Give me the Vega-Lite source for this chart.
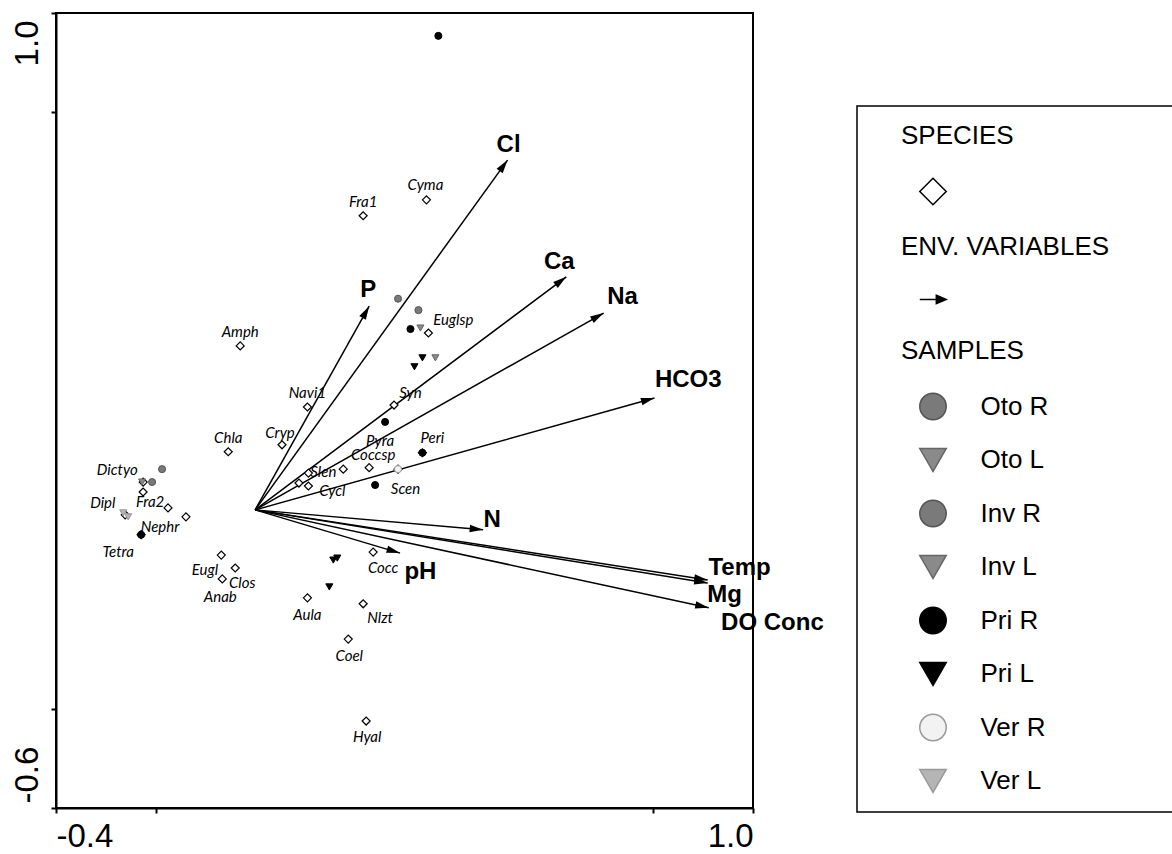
{
  "$schema": "https://vega.github.io/schema/vega-lite/v6.json",
  "width": 697,
  "height": 795,
  "autosize": "none",
  "padding": {"left": 56, "top": 13, "right": 419, "bottom": 46},
  "background": "white",
  "config": {
    "view": {"stroke": "black", "strokeWidth": 2},
    "legend": {"strokeWidth": 1.5},
    "axis": {
      "grid": false,
      "domainColor": "black",
      "domainWidth": 2,
      "tickColor": "black",
      "tickWidth": 2,
      "tickSize": 5,
      "labelFont": "Liberation Sans",
      "labelFontSize": 33,
      "labelColor": "black"
    }
  },
  "datasets": {
    "env": [
      {"name": "Cl", "x": 0.507, "y": 0.704, "lx": 0.509, "ly": 0.734},
      {"name": "Ca", "x": 0.625, "y": 0.469, "lx": 0.611, "ly": 0.499},
      {"name": "Na", "x": 0.700, "y": 0.396, "lx": 0.738, "ly": 0.429},
      {"name": "HCO3", "x": 0.802, "y": 0.225, "lx": 0.870, "ly": 0.262},
      {"name": "P", "x": 0.229, "y": 0.410, "lx": 0.227, "ly": 0.443},
      {"name": "N", "x": 0.458, "y": -0.040, "lx": 0.476, "ly": -0.020},
      {"name": "pH", "x": 0.291, "y": -0.087, "lx": 0.332, "ly": -0.125},
      {"name": "Temp", "x": 0.909, "y": -0.141, "lx": 0.973, "ly": -0.117},
      {"name": "Mg", "x": 0.909, "y": -0.147, "lx": 0.943, "ly": -0.171},
      {"name": "DO Conc", "x": 0.911, "y": -0.197, "lx": 1.039, "ly": -0.227}
    ],
    "species": [
      {"name": "Fra1", "x": 0.217, "y": 0.592, "lx": 0.217, "ly": 0.620, "group": "Species"},
      {"name": "Cyma", "x": 0.344, "y": 0.624, "lx": 0.342, "ly": 0.654, "group": "Species"},
      {"name": "Amph", "x": -0.030, "y": 0.330, "lx": -0.030, "ly": 0.358, "group": "Species"},
      {"name": "Euglsp", "x": 0.348, "y": 0.356, "lx": 0.398, "ly": 0.382, "group": "Species"},
      {"name": "Navi1", "x": 0.105, "y": 0.207, "lx": 0.105, "ly": 0.235, "group": "Species"},
      {"name": "Syn", "x": 0.279, "y": 0.211, "lx": 0.312, "ly": 0.235, "group": "Species"},
      {"name": "Cryp", "x": 0.054, "y": 0.131, "lx": 0.050, "ly": 0.155, "group": "Species"},
      {"name": "Chla", "x": -0.054, "y": 0.117, "lx": -0.054, "ly": 0.145, "group": "Species"},
      {"name": "Pyra", "x": 0.177, "y": 0.082, "lx": 0.251, "ly": 0.139, "group": "Species"},
      {"name": "Coccsp", "x": 0.229, "y": 0.085, "lx": 0.237, "ly": 0.111, "group": "Species"},
      {"name": "Slen", "x": 0.107, "y": 0.074, "lx": 0.137, "ly": 0.076, "group": "Species"},
      {"name": "Cycl", "x": 0.107, "y": 0.048, "lx": 0.155, "ly": 0.038, "group": "Species"},
      {"name": "", "x": 0.088, "y": 0.054, "lx": 0.088, "ly": 0.054, "group": "Species"},
      {"name": "Peri", "x": 0.336, "y": 0.115, "lx": 0.356, "ly": 0.145, "group": "Species"},
      {"name": "Scen", "x": 0.287, "y": 0.082, "lx": 0.302, "ly": 0.042, "group": "Species"},
      {"name": "Dictyo", "x": -0.225, "y": 0.056, "lx": -0.277, "ly": 0.080, "group": "Species"},
      {"name": "Fra2", "x": -0.225, "y": 0.036, "lx": -0.211, "ly": 0.016, "group": "Species"},
      {"name": "Dipl", "x": -0.261, "y": -0.010, "lx": -0.306, "ly": 0.014, "group": "Species"},
      {"name": "Nephr", "x": -0.139, "y": -0.014, "lx": -0.191, "ly": -0.034, "group": "Species"},
      {"name": "", "x": -0.175, "y": 0.004, "lx": -0.175, "ly": 0.004, "group": "Species"},
      {"name": "Tetra", "x": -0.229, "y": -0.050, "lx": -0.275, "ly": -0.085, "group": "Species"},
      {"name": "Eugl", "x": -0.068, "y": -0.091, "lx": -0.101, "ly": -0.121, "group": "Species"},
      {"name": "Clos", "x": -0.040, "y": -0.117, "lx": -0.026, "ly": -0.147, "group": "Species"},
      {"name": "Anab", "x": -0.066, "y": -0.139, "lx": -0.070, "ly": -0.175, "group": "Species"},
      {"name": "Aula", "x": 0.105, "y": -0.177, "lx": 0.105, "ly": -0.211, "group": "Species"},
      {"name": "Nlzt", "x": 0.217, "y": -0.189, "lx": 0.251, "ly": -0.217, "group": "Species"},
      {"name": "Coel", "x": 0.187, "y": -0.260, "lx": 0.189, "ly": -0.294, "group": "Species"},
      {"name": "Hyal", "x": 0.223, "y": -0.425, "lx": 0.225, "ly": -0.457, "group": "Species"},
      {"name": "Cocc", "x": 0.237, "y": -0.085, "lx": 0.257, "ly": -0.117, "group": "Species"}
    ],
    "samples": [
      {"x": 0.368, "y": 0.954, "group": "Pri R"},
      {"x": 0.287, "y": 0.425, "group": "Oto R"},
      {"x": 0.328, "y": 0.402, "group": "Inv R"},
      {"x": 0.312, "y": 0.364, "group": "Pri R"},
      {"x": 0.332, "y": 0.366, "group": "Oto L"},
      {"x": 0.336, "y": 0.306, "group": "Pri L"},
      {"x": 0.362, "y": 0.306, "group": "Inv L"},
      {"x": 0.320, "y": 0.288, "group": "Pri L"},
      {"x": 0.261, "y": 0.177, "group": "Pri R"},
      {"x": 0.336, "y": 0.115, "group": "Pri R"},
      {"x": 0.287, "y": 0.082, "group": "Ver R"},
      {"x": 0.241, "y": 0.050, "group": "Pri R"},
      {"x": -0.187, "y": 0.082, "group": "Oto R"},
      {"x": -0.207, "y": 0.056, "group": "Inv R"},
      {"x": -0.227, "y": 0.056, "group": "Oto L"},
      {"x": -0.265, "y": -0.006, "group": "Ver L"},
      {"x": -0.255, "y": -0.014, "group": "Ver L"},
      {"x": -0.229, "y": -0.050, "group": "Pri R"},
      {"x": 0.157, "y": -0.101, "group": "Pri L"},
      {"x": 0.165, "y": -0.097, "group": "Pri L"},
      {"x": 0.149, "y": -0.155, "group": "Pri L"}
    ]
  },
  "layer": [
    {
      "data": {"name": "env"},
      "mark": {"type": "rule", "color": "black", "strokeWidth": 1.5},
      "encoding": {
        "x": {
          "field": "x", "type": "quantitative",
          "scale": {"domain": [-0.4, 1.0], "nice": false, "zero": false},
          "axis": {"title": null, "values": [-0.4, -0.2, 0.8, 1.0], "labelFlush": true, "labelFlushOffset": 0, "labelPadding": 7, "labelBaseline": "top",
                   "labelExpr": "datum.value < -0.3 || datum.value > 0.9 ? (datum.value < 0 ? '-' : '') + format(abs(datum.value), '.1f') : ''"}
        },
        "y": {
          "field": "y", "type": "quantitative",
          "scale": {"domain": [-0.6, 1.0], "nice": false, "zero": false},
          "axis": {"title": null, "values": [-0.6, -0.4, 0.8, 1.0], "labelAngle": -90, "labelBaseline": "alphabetic", "labelPadding": 14,
                   "labelAlign": {"condition": {"test": "datum.value > 0", "value": "right"}, "value": "left"},
                   "labelOffset": {"condition": {"test": "datum.value > 0", "value": 7}, "value": -5},
                   "labelExpr": "datum.value < -0.5 || datum.value > 0.9 ? (datum.value < 0 ? '-' : '') + format(abs(datum.value), '.1f') : ''"}
        },
        "x2": {"datum": 0},
        "y2": {"datum": 0}
      }
    },
    {
      "data": {"name": "env"},
      "mark": {
        "type": "point",
        "filled": true,
        "color": "black",
        "opacity": 1,
        "size": 225,
        "shape": "M0,0L0.5,1.8L-0.5,1.8Z",
        "angle": {"expr": "atan2(datum.x, datum.y) * 180 / PI"}
      },
      "encoding": {
        "x": {"field": "x", "type": "quantitative",
              "axis": {"title": null, "values": [-0.4, -0.2, 0.8, 1.0], "labelFlush": true, "labelFlushOffset": 0, "labelPadding": 7, "labelBaseline": "top",
                       "labelExpr": "datum.value < -0.3 || datum.value > 0.9 ? (datum.value < 0 ? '-' : '') + format(abs(datum.value), '.1f') : ''"}},
        "y": {"field": "y", "type": "quantitative",
              "axis": {"title": null, "values": [-0.6, -0.4, 0.8, 1.0], "labelAngle": -90, "labelBaseline": "alphabetic", "labelPadding": 14,
                       "labelAlign": {"condition": {"test": "datum.value > 0", "value": "right"}, "value": "left"},
                       "labelOffset": {"condition": {"test": "datum.value > 0", "value": 7}, "value": -5},
                       "labelExpr": "datum.value < -0.5 || datum.value > 0.9 ? (datum.value < 0 ? '-' : '') + format(abs(datum.value), '.1f') : ''"}}
      }
    },
    {
      "data": {"name": "env"},
      "mark": {"type": "text", "font": "Liberation Sans", "fontWeight": "bold", "fontSize": 24, "color": "black", "align": "center", "baseline": "middle"},
      "encoding": {
        "x": {"field": "lx", "type": "quantitative",
              "axis": {"title": null, "values": [-0.4, -0.2, 0.8, 1.0], "labelFlush": true, "labelFlushOffset": 0, "labelPadding": 7, "labelBaseline": "top",
                       "labelExpr": "datum.value < -0.3 || datum.value > 0.9 ? (datum.value < 0 ? '-' : '') + format(abs(datum.value), '.1f') : ''"}},
        "y": {"field": "ly", "type": "quantitative",
              "axis": {"title": null, "values": [-0.6, -0.4, 0.8, 1.0], "labelAngle": -90, "labelBaseline": "alphabetic", "labelPadding": 14,
                       "labelAlign": {"condition": {"test": "datum.value > 0", "value": "right"}, "value": "left"},
                       "labelOffset": {"condition": {"test": "datum.value > 0", "value": 7}, "value": -5},
                       "labelExpr": "datum.value < -0.5 || datum.value > 0.9 ? (datum.value < 0 ? '-' : '') + format(abs(datum.value), '.1f') : ''"}},
        "text": {"field": "name"}
      }
    },
    {
      "data": {"name": "species"},
      "mark": {"type": "point", "filled": true, "opacity": 1, "size": 64, "strokeWidth": 1.2},
      "encoding": {
        "x": {"field": "x", "type": "quantitative",
              "axis": {"title": null, "values": [-0.4, -0.2, 0.8, 1.0], "labelFlush": true, "labelFlushOffset": 0, "labelPadding": 7, "labelBaseline": "top",
                       "labelExpr": "datum.value < -0.3 || datum.value > 0.9 ? (datum.value < 0 ? '-' : '') + format(abs(datum.value), '.1f') : ''"}},
        "y": {"field": "y", "type": "quantitative",
              "axis": {"title": null, "values": [-0.6, -0.4, 0.8, 1.0], "labelAngle": -90, "labelBaseline": "alphabetic", "labelPadding": 14,
                       "labelAlign": {"condition": {"test": "datum.value > 0", "value": "right"}, "value": "left"},
                       "labelOffset": {"condition": {"test": "datum.value > 0", "value": 7}, "value": -5},
                       "labelExpr": "datum.value < -0.5 || datum.value > 0.9 ? (datum.value < 0 ? '-' : '') + format(abs(datum.value), '.1f') : ''"}},
        "shape": {
          "field": "group", "type": "nominal",
          "scale": {
            "domain": ["SPECIES", "Species", "ENV. VARIABLES", "Env", "SAMPLES", "Oto R", "Oto L", "Inv R", "Inv L", "Pri R", "Pri L", "Ver R", "Ver L"],
            "range": ["circle", "diamond", "circle", "M-1,0L0.35,0M0.25,-0.32L1,0L0.25,0.32Z", "circle", "circle", "triangle-down", "circle", "triangle-down", "circle", "triangle-down", "circle", "triangle-down"]
          },
          "legend": {
            "title": null,
            "orient": "none",
            "legendX": 801,
            "legendY": 93,
            "direction": "vertical",
            "strokeColor": "black",
            "padding": 16,
            "symbolSize": 700,
            "symbolStrokeWidth": 1.5,
            "symbolOpacity": 1,
            "symbolOffset": 46,
            "labelOffset": -46,
            "rowPadding": 21.5,
            "labelFont": "Liberation Sans",
            "labelFontSize": 26,
            "labelColor": "black",
            "labelLimit": 500,
            "labelExpr": "datum.label == 'Species' || datum.label == 'Env' ? '' : datum.label == 'ENV. VARIABLES' ? datum.label + '\u00a0\u00a0\u00a0\u00a0\u00a0\u00a0\u00a0\u00a0\u00a0\u00a0\u200b' : datum.label == 'SPECIES' || datum.label == 'SAMPLES' ? datum.label : '\u200b\u00a0\u00a0\u00a0\u00a0\u00a0\u00a0\u00a0\u00a0\u00a0\u00a0\u00a0' + datum.label"
          }
        },
        "fill": {
          "field": "group", "type": "nominal",
          "scale": {
            "domain": ["SPECIES", "Species", "ENV. VARIABLES", "Env", "SAMPLES", "Oto R", "Oto L", "Inv R", "Inv L", "Pri R", "Pri L", "Ver R", "Ver L"],
            "range": ["transparent", "white", "transparent", "black", "transparent", "#7a7a7a", "#8a8a8a", "#7a7a7a", "#8a8a8a", "black", "black", "#f2f2f2", "#b5b5b5"]
          }
        },
        "stroke": {
          "field": "group", "type": "nominal",
          "scale": {
            "domain": ["SPECIES", "Species", "ENV. VARIABLES", "Env", "SAMPLES", "Oto R", "Oto L", "Inv R", "Inv L", "Pri R", "Pri L", "Ver R", "Ver L"],
            "range": ["transparent", "black", "transparent", "black", "transparent", "#555555", "#666666", "#555555", "#666666", "black", "black", "#9a9a9a", "#999999"]
          }
        }
      }
    },
    {
      "data": {"name": "species"},
      "mark": {"type": "text", "font": "Lato", "fontStyle": "italic", "fontSize": 15, "color": "black", "align": "center", "baseline": "middle"},
      "encoding": {
        "x": {"field": "lx", "type": "quantitative",
              "axis": {"title": null, "values": [-0.4, -0.2, 0.8, 1.0], "labelFlush": true, "labelFlushOffset": 0, "labelPadding": 7, "labelBaseline": "top",
                       "labelExpr": "datum.value < -0.3 || datum.value > 0.9 ? (datum.value < 0 ? '-' : '') + format(abs(datum.value), '.1f') : ''"}},
        "y": {"field": "ly", "type": "quantitative",
              "axis": {"title": null, "values": [-0.6, -0.4, 0.8, 1.0], "labelAngle": -90, "labelBaseline": "alphabetic", "labelPadding": 14,
                       "labelAlign": {"condition": {"test": "datum.value > 0", "value": "right"}, "value": "left"},
                       "labelOffset": {"condition": {"test": "datum.value > 0", "value": 7}, "value": -5},
                       "labelExpr": "datum.value < -0.5 || datum.value > 0.9 ? (datum.value < 0 ? '-' : '') + format(abs(datum.value), '.1f') : ''"}},
        "text": {"field": "name"}
      }
    },
    {
      "data": {"name": "samples"},
      "mark": {"type": "point", "filled": true, "opacity": 1, "size": 50, "strokeWidth": 1},
      "encoding": {
        "x": {"field": "x", "type": "quantitative",
              "axis": {"title": null, "values": [-0.4, -0.2, 0.8, 1.0], "labelFlush": true, "labelFlushOffset": 0, "labelPadding": 7, "labelBaseline": "top",
                       "labelExpr": "datum.value < -0.3 || datum.value > 0.9 ? (datum.value < 0 ? '-' : '') + format(abs(datum.value), '.1f') : ''"}},
        "y": {"field": "y", "type": "quantitative",
              "axis": {"title": null, "values": [-0.6, -0.4, 0.8, 1.0], "labelAngle": -90, "labelBaseline": "alphabetic", "labelPadding": 14,
                       "labelAlign": {"condition": {"test": "datum.value > 0", "value": "right"}, "value": "left"},
                       "labelOffset": {"condition": {"test": "datum.value > 0", "value": 7}, "value": -5},
                       "labelExpr": "datum.value < -0.5 || datum.value > 0.9 ? (datum.value < 0 ? '-' : '') + format(abs(datum.value), '.1f') : ''"}},
        "shape": {"field": "group", "type": "nominal"},
        "fill": {"field": "group", "type": "nominal"},
        "stroke": {"field": "group", "type": "nominal"}
      }
    }
  ]
}
